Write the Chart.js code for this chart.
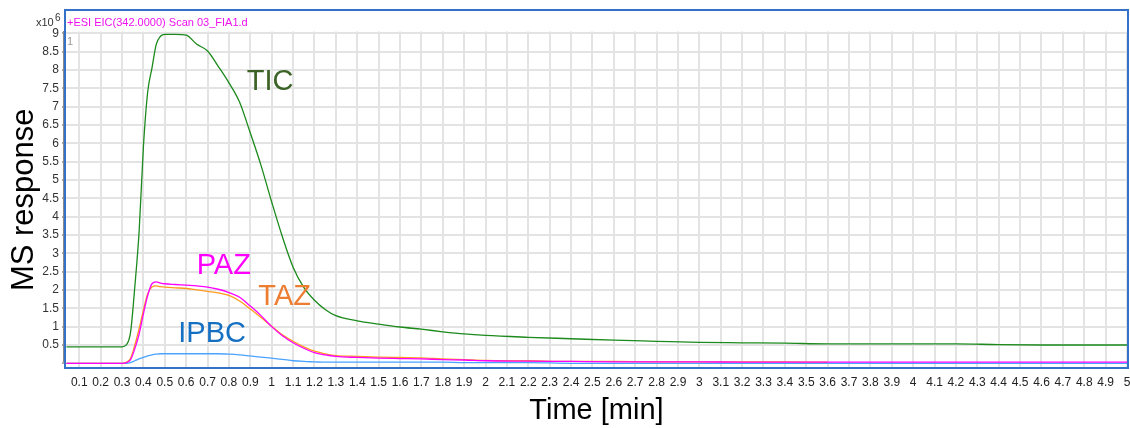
<!DOCTYPE html>
<html>
<head>
<meta charset="utf-8">
<script src="https://cdn.jsdelivr.net/npm/chart.js@4/dist/chart.umd.min.js"></script>
<style>
  html, body { margin: 0; padding: 0; background: #fff; }
  #wrap { width: 1130px; height: 428px; }
</style>
</head>
<body>
<div id="wrap"><canvas id="myChart" width="1130" height="428"></canvas></div>
<script>
// acquisition times [min]
const times = [0.04, 0.1, 0.2, 0.3, 0.32, 0.34, 0.36, 0.38, 0.40, 0.42, 0.44, 0.46, 0.48, 0.5,
  0.55, 0.6, 0.65, 0.7, 0.75, 0.8, 0.85, 0.9, 0.95, 1.0, 1.05, 1.1, 1.15, 1.2, 1.25, 1.3,
  1.4, 1.5, 1.6, 1.7, 1.8, 1.9, 2.0, 2.2, 2.4, 2.6, 2.8, 3.0, 3.2, 3.4, 3.6, 3.8, 4.0,
  4.2, 4.4, 4.6, 4.8, 5.0];

// responses, x10^6
const tic = [0.45, 0.45, 0.45, 0.45, 0.5, 0.85, 2.1, 3.6, 5.9, 7.4, 8.05, 8.7, 8.92, 8.97,
  8.97, 8.95, 8.7, 8.52, 8.1, 7.65, 7.12, 6.28, 5.4, 4.4, 3.45, 2.62, 2.07, 1.72, 1.47, 1.3,
  1.16, 1.07, 0.99, 0.93, 0.86, 0.8, 0.76, 0.71, 0.67, 0.63, 0.6, 0.57, 0.56, 0.55, 0.53, 0.53, 0.53,
  0.53, 0.51, 0.5, 0.5, 0.5];
const paz = [0, 0, 0, 0, 0.02, 0.1, 0.4, 0.8, 1.35, 1.85, 2.17, 2.22, 2.19, 2.17,
  2.15, 2.13, 2.11, 2.08, 2.02, 1.93, 1.8, 1.56, 1.3, 1.0, 0.75, 0.56, 0.41, 0.29, 0.23, 0.19,
  0.16, 0.14, 0.13, 0.12, 0.1, 0.09, 0.07, 0.06, 0.05, 0.04, 0.04, 0.04, 0.03, 0.03, 0.03, 0.03, 0.03,
  0.03, 0.03, 0.03, 0.03, 0.03];
const taz = [0, 0, 0, 0, 0.03, 0.14, 0.5, 0.95, 1.45, 1.9, 2.08, 2.11, 2.09, 2.08,
  2.06, 2.04, 2.0, 1.96, 1.92, 1.85, 1.7, 1.48, 1.25, 1.01, 0.78, 0.6, 0.45, 0.33, 0.26, 0.21,
  0.19, 0.17, 0.16, 0.15, 0.12, 0.1, 0.08, 0.07, 0.05, 0.05, 0.04, 0.04, 0.04, 0.04, 0.03, null, null,
  null, null, null, null, null];
const ipbc = [0, 0, 0, 0, 0, 0.02, 0.07, 0.12, 0.16, 0.2, 0.23, 0.25, 0.26, 0.26,
  0.26, 0.26, 0.26, 0.26, 0.26, 0.25, 0.23, 0.2, 0.17, 0.14, 0.11, 0.07, 0.05, 0.04, 0.03, 0.03,
  0.03, 0.03, 0.03, 0.03, 0.03, 0.02, 0.02, 0.02, 0, 0, 0, 0, 0, 0, 0, 0, 0,
  0, 0, 0, 0, 0];

// label name, colour, anchor time, anchor response
const labels = [
  ['TIC', '#3b6326', 0.883, 7.45],
  ['PAZ', '#ff00ff', 0.649, 2.43],
  ['TAZ', '#ed7d31', 0.9375, 1.59],
  ['IPBC', '#1670c2', 0.563, 0.59]
];

const pts = (ys) => times.map((t, i) => ({ x: t, y: ys[i] }));
const FONT = '"Liberation Sans", Arial, sans-serif';

const decor = {
  id: 'decor',
  afterDraw(chart) {
    const c = chart.ctx;
    const a = chart.chartArea;
    const xs = chart.scales.x, ys = chart.scales.y;
    c.save();
    // series names
    c.font = '29px ' + FONT;
    c.textBaseline = 'alphabetic';
    c.textAlign = 'left';
    labels.forEach(([txt, col, t, v]) => {
      c.fillStyle = col;
      c.fillText(txt, xs.getPixelForValue(t), ys.getPixelForValue(v));
    });
    // header
    c.font = '11px ' + FONT;
    c.fillStyle = '#ee11ee';
    c.fillText('+ESI EIC(342.0000) Scan 03_FIA1.d', 67, 26);
    c.fillStyle = '#999';
    c.fillText('1', 67, 45);
    c.fillStyle = '#333';
    c.fillText('x10', 36, 26);
    c.font = '10px ' + FONT;
    c.fillText('6', 55, 21);
    // axis line
    c.strokeStyle = '#8a8a8a';
    c.lineWidth = 1;
    c.beginPath();
    c.moveTo(63.5, 31);
    c.lineTo(63.5, 362);
    c.stroke();
    // frame
    c.strokeStyle = '#3471c8';
    c.lineWidth = 2;
    c.strokeRect(65, 10, a.right - 65 + 1, 358);
    c.restore();
  }
};

new Chart(document.getElementById('myChart'), {
  type: 'line',
  data: {
    datasets: [
      { label: 'TIC', data: pts(tic), borderColor: '#1c8a1c', order: 4 },
      { label: 'IPBC', data: pts(ipbc), borderColor: '#4aa3ff', order: 3 },
      { label: 'TAZ', data: pts(taz), borderColor: '#ff9a1e', order: 2 },
      { label: 'PAZ', data: pts(paz), borderColor: '#ff00ff', order: 1 }
    ]
  },
  options: {
    responsive: false,
    animation: false,
    layout: { padding: { top: 31.5, right: 3, left: 0, bottom: 0 } },
    elements: {
      point: { radius: 0 },
      line: { borderWidth: 1.3, cubicInterpolationMode: 'monotone', fill: false }
    },
    plugins: {
      legend: { display: false },
      tooltip: { enabled: false }
    },
    scales: {
      x: {
        type: 'linear',
        min: 0.038,
        max: 5.0,
        afterFit: (s) => { s.height = 60; s.paddingLeft = 0; s.paddingRight = 0; },
        border: { display: false },
        grid: { color: '#e3e3e3', lineWidth: 2, drawTicks: false },
        ticks: {
          stepSize: 0.1,
          includeBounds: false,
          autoSkip: false,
          maxRotation: 0,
          padding: 7,
          color: '#222',
          font: { family: FONT, size: 12 },
          callback: (v) => String(Math.round(v * 10) / 10)
        },
        title: {
          display: true,
          text: 'Time [min]',
          color: '#000',
          font: { family: FONT, size: 29, lineHeight: 1.2 },
          padding: { top: 0, bottom: 0 }
        }
      },
      y: {
        min: -0.128,
        max: 9.05,
        afterFit: (s) => { s.width = 66; s.paddingTop = 0; s.paddingBottom = 0; },
        border: { display: false },
        grid: {
          color: (ctx) => ctx.tick && ctx.tick.value === 0 ? 'rgba(0,0,0,0)' : '#e3e3e3',
          lineWidth: 2,
          tickLength: 4,
          tickColor: '#555',
          tickWidth: 1
        },
        ticks: {
          stepSize: 0.5,
          includeBounds: false,
          padding: 3,
          color: '#333',
          font: { family: FONT, size: 12 },
          callback: (v) => v === 0 ? '' : String(Math.round(v * 10) / 10)
        },
        title: {
          display: true,
          text: 'MS response',
          color: '#000',
          font: { family: FONT, size: 31, lineHeight: 1.2 },
          padding: { top: 6, bottom: 0 }
        }
      }
    }
  },
  plugins: [decor]
});
</script>
</body>
</html>
